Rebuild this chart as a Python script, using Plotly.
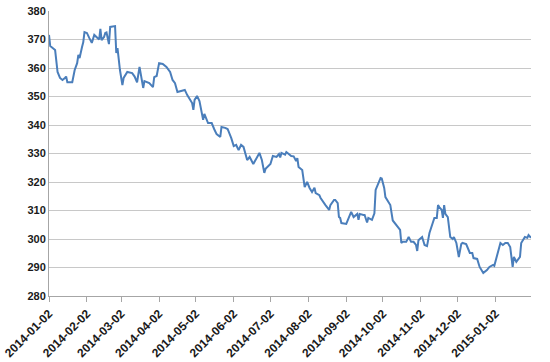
import plotly.graph_objects as go

dates = [
    "2014-01-02", "2014-01-03", "2014-01-07", "2014-01-08", "2014-01-09", "2014-01-11",
    "2014-01-13", "2014-01-15", "2014-01-16", "2014-01-17", "2014-01-21", "2014-01-23",
    "2014-01-25", "2014-01-26", "2014-01-27", "2014-01-29", "2014-01-30", "2014-01-31",
    "2014-02-02", "2014-02-04", "2014-02-06", "2014-02-08", "2014-02-10", "2014-02-12",
    "2014-02-13", "2014-02-14", "2014-02-16", "2014-02-17", "2014-02-18", "2014-02-20",
    "2014-02-21", "2014-02-25", "2014-02-26", "2014-02-27", "2014-03-01", "2014-03-03",
    "2014-03-04", "2014-03-07", "2014-03-11", "2014-03-13", "2014-03-15", "2014-03-17",
    "2014-03-20", "2014-03-21", "2014-03-25", "2014-03-28", "2014-03-29", "2014-03-31",
    "2014-04-02", "2014-04-05", "2014-04-08", "2014-04-11", "2014-04-13", "2014-04-15",
    "2014-04-17", "2014-04-21", "2014-04-23", "2014-04-25", "2014-04-29", "2014-04-30",
    "2014-05-01", "2014-05-03", "2014-05-04", "2014-05-05", "2014-05-08", "2014-05-09",
    "2014-05-12", "2014-05-15", "2014-05-17", "2014-05-19", "2014-05-22", "2014-05-23",
    "2014-05-26", "2014-05-28", "2014-05-31", "2014-06-02", "2014-06-04", "2014-06-06",
    "2014-06-08", "2014-06-10", "2014-06-13", "2014-06-15", "2014-06-18", "2014-06-21",
    "2014-06-23", "2014-06-25", "2014-06-27", "2014-06-28", "2014-07-02", "2014-07-04",
    "2014-07-07", "2014-07-09", "2014-07-10", "2014-07-11", "2014-07-14", "2014-07-15",
    "2014-07-17", "2014-07-19", "2014-07-21", "2014-07-23", "2014-07-24", "2014-07-25",
    "2014-07-28", "2014-07-30", "2014-08-01", "2014-08-03", "2014-08-05", "2014-08-07",
    "2014-08-08", "2014-08-11", "2014-08-12", "2014-08-14", "2014-08-16", "2014-08-19",
    "2014-08-20", "2014-08-23", "2014-08-24", "2014-08-26", "2014-08-27", "2014-08-28",
    "2014-08-29", "2014-09-02", "2014-09-06", "2014-09-08", "2014-09-11", "2014-09-12",
    "2014-09-13", "2014-09-16", "2014-09-17", "2014-09-19", "2014-09-20", "2014-09-23",
    "2014-09-25", "2014-09-26", "2014-09-29", "2014-09-30", "2014-10-01", "2014-10-03",
    "2014-10-04", "2014-10-08", "2014-10-10", "2014-10-14", "2014-10-16", "2014-10-17",
    "2014-10-18", "2014-10-21", "2014-10-23", "2014-10-25", "2014-10-27", "2014-10-29",
    "2014-10-30", "2014-10-31", "2014-11-03", "2014-11-05", "2014-11-07", "2014-11-09",
    "2014-11-13", "2014-11-15", "2014-11-16", "2014-11-17", "2014-11-19", "2014-11-20",
    "2014-11-21", "2014-11-22", "2014-11-24", "2014-11-26", "2014-11-28", "2014-11-29",
    "2014-12-01", "2014-12-03", "2014-12-05", "2014-12-06", "2014-12-09", "2014-12-10",
    "2014-12-12", "2014-12-14", "2014-12-15", "2014-12-18", "2014-12-19", "2014-12-20",
    "2014-12-23", "2014-12-26", "2014-12-28", "2014-12-31", "2015-01-01", "2015-01-03",
    "2015-01-06", "2015-01-08", "2015-01-10", "2015-01-12", "2015-01-14", "2015-01-16",
    "2015-01-17", "2015-01-19", "2015-01-22", "2015-01-23", "2015-01-26", "2015-01-28",
    "2015-01-29", "2015-01-31",
]

values = [
    371.6, 367.7, 366.3, 362.0, 358.6, 356.5,
    355.8, 356.5, 357.0, 355.0, 355.0, 359.3,
    361.7, 364.6, 363.5, 367.4, 369.0, 372.6,
    372.3, 370.5, 368.8, 371.6, 370.9, 370.0,
    373.7, 369.8, 370.9, 372.3, 372.5, 368.4,
    374.4, 374.7, 365.3, 367.0, 359.3, 354.0,
    356.5, 358.6, 358.2, 357.0, 355.0, 360.4,
    353.0, 355.4, 354.7, 353.3, 356.8, 357.2,
    361.7, 361.4, 360.4, 358.6, 355.8, 354.7,
    351.6, 352.0, 352.3, 350.5, 347.7, 345.3,
    348.8, 350.2, 349.0, 348.4, 341.8, 343.9,
    340.7, 340.7, 338.6, 336.8, 335.8, 339.3,
    339.0, 338.6, 335.4, 332.6, 333.0, 331.2,
    333.0, 332.3, 327.7, 328.8, 326.3, 328.4,
    330.2, 327.7, 323.2, 324.6, 326.3, 329.1,
    328.8, 329.8, 328.6, 330.2, 329.6, 330.5,
    329.8, 329.1, 329.0, 327.4, 328.4, 325.3,
    324.2, 318.2, 320.0, 317.9, 316.5, 318.0,
    316.1, 315.4, 314.4, 313.0, 311.9, 310.2,
    311.9, 313.7, 313.7, 312.6, 307.7, 307.4,
    305.6, 305.3, 309.5, 307.7, 308.8, 306.7,
    308.8, 308.4, 308.4, 305.8, 307.4, 306.7,
    309.0, 317.2, 320.5, 321.4, 321.2, 317.9,
    314.7, 311.9, 306.5, 304.2, 303.2, 298.6,
    299.0, 299.0, 300.7, 299.0, 299.0, 297.9,
    295.8, 299.6, 300.7, 297.9, 297.5, 302.1,
    307.4, 307.4, 311.9, 311.2, 310.2, 307.4,
    311.9, 308.8, 307.7, 300.7, 300.0, 300.7,
    298.6, 293.7, 298.2, 298.6, 298.2, 297.2,
    295.1, 295.1, 293.3, 293.0, 291.6, 290.2,
    288.1, 289.1, 290.2, 290.9, 290.6, 293.7,
    298.6, 297.9, 298.6, 298.6, 297.2, 290.2,
    293.7, 292.0, 293.7, 298.6, 300.7, 300.4,
    301.4, 300.4,
]

tick_dates = [
    "2014-01-02", "2014-02-02", "2014-03-02", "2014-04-02", "2014-05-02",
    "2014-06-02", "2014-07-02", "2014-08-02", "2014-09-02", "2014-10-02",
    "2014-11-02", "2014-12-02", "2015-01-02",
]

fig = go.Figure()
fig.add_trace(go.Scatter(
    x=dates, y=values, mode="lines",
    line=dict(color="#4A7EBB", width=2),
    hoverinfo="x+y",
))

xfont = dict(family="Liberation Sans, Arial, sans-serif", size=12,
             color="#1a1a1a", weight="bold")
yfont = dict(family="Liberation Sans, Arial, sans-serif", size=11,
             color="#1a1a1a", weight="bold")

fig.update_layout(
    width=550, height=362,
    margin=dict(l=49, r=19, t=11, b=66),
    paper_bgcolor="white", plot_bgcolor="white",
    showlegend=False,
    xaxis=dict(
        type="date",
        range=["2014-01-02", "2015-01-31"],
        tickvals=tick_dates,
        ticktext=tick_dates,
        tickangle=-45,
        tickfont=xfont,
        showgrid=False,
        showline=True, linecolor="#A6A6A6", linewidth=1,
        ticks="outside", ticklen=5, tickcolor="#A6A6A6",
        zeroline=False,
        automargin=False,
    ),
    yaxis=dict(
        range=[280, 380],
        dtick=10,
        tick0=280,
        tickfont=yfont,
        showgrid=True, gridcolor="#C8C8C8", gridwidth=1,
        showline=True, linecolor="#A6A6A6", linewidth=1,
        ticks="", ticklen=0,
        zeroline=False,
        automargin=False,
    ),
)

fig.write_html("out.html", config={"displayModeBar": False},
               post_script="document.body.style.margin='0';")
